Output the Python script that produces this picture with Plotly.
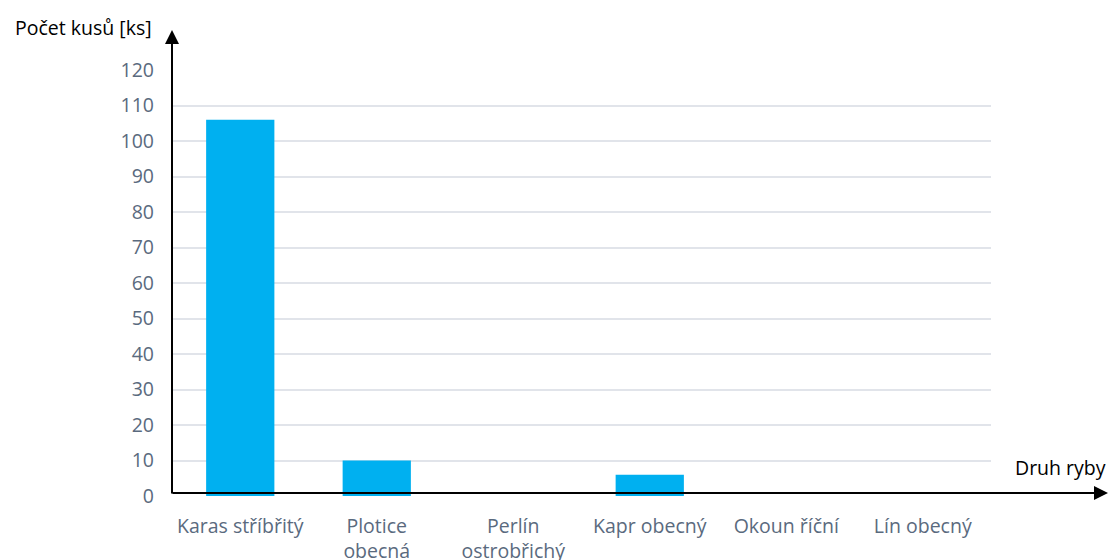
import plotly.graph_objects as go

categories = ["Karas stříbřitý", "Plotice<br>obecná", "Perlín<br>ostrobřichý",
              "Kapr obecný", "Okoun říční", "Lín obecný"]
counts = [106, 10, 0, 6, 0, 0]
y_ticks = list(range(0, 121, 10))

FONT = "Open Sans"
TICK_COLOR = "#5a6a7e"
FS = 19.5

fig = go.Figure()
fig.add_trace(go.Bar(x=categories, y=counts, marker=dict(color="#00b0f0", line=dict(width=0)),
                     width=0.5))

fig.update_layout(
    width=1109, height=560,
    margin=dict(l=172, r=118, t=70, b=64),
    plot_bgcolor="white", paper_bgcolor="white",
    showlegend=False,
    font=dict(family=FONT, size=FS, color=TICK_COLOR),
    xaxis=dict(showgrid=False, showline=False, zeroline=False, ticks="", automargin=False,
               tickfont=dict(family=FONT, size=FS, color=TICK_COLOR),
               ticklabelstandoff=16),
    yaxis=dict(range=[0, 120], tickvals=y_ticks, showgrid=True, gridcolor="#e1e4ea",
               gridwidth=2, zeroline=False, showline=False, ticks="", automargin=False,
               tickfont=dict(family=FONT, size=FS, color=TICK_COLOR),
               ticklabelstandoff=17),
)

# axis arrows
fig.add_annotation(xref="paper", yref="paper", x=1.1429, y=0.007,
                   ax=-937, ay=0, axref="pixel", ayref="pixel",
                   showarrow=True, arrowhead=2, arrowsize=1.4, arrowwidth=2,
                   arrowcolor="black", text="")
fig.add_annotation(xref="paper", yref="paper", x=0, y=1.094,
                   ax=0, ay=465, axref="pixel", ayref="pixel",
                   showarrow=True, arrowhead=2, arrowsize=1.4, arrowwidth=2,
                   arrowcolor="black", text="")

fig.add_annotation(xref="paper", yref="paper", x=-0.022, y=1.099, xanchor="right", yanchor="middle",
                   text="Počet kusů [ks]", showarrow=False,
                   font=dict(family=FONT, size=FS, color="black"))
fig.add_annotation(xref="paper", yref="paper", x=1.143, y=0.068, xanchor="right", yanchor="middle",
                   text="Druh ryby", showarrow=False,
                   font=dict(family=FONT, size=FS, color="black"))

fig.write_html("out.html")
